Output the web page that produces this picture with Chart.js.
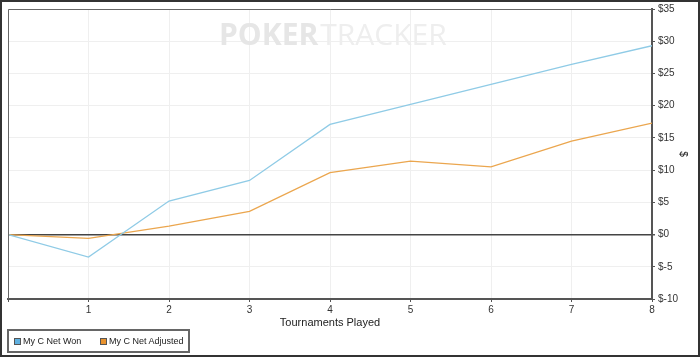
<!DOCTYPE html>
<html><head><meta charset="utf-8">
<script src="https://cdn.jsdelivr.net/npm/chart.js@4"></script>
<style>
html,body{margin:0;padding:0;background:#fff;}
#wrap{position:relative;width:700px;height:357px;}
#legend{position:absolute;left:7px;top:329px;width:183px;height:24px;border:2px solid #666;box-sizing:border-box;font:9px "Liberation Sans",Arial,sans-serif;color:#222;}
.item{position:absolute;top:0;height:20px;display:flex;align-items:center;white-space:nowrap;}
.sw{width:5px;height:5px;border:1px solid #555;margin-right:2px;}
</style></head>
<body><div id="wrap"><canvas id="c" width="700" height="357"></canvas>
<div id="legend"></div></div>
<script>
const tournaments = [0,1,2,3,4,5,6,7,8];
const netWon = [0,-3.5,5.2,8.4,17.1,20.2,23.3,26.4,29.3];
const netAdjusted = [0,-0.6,1.3,3.6,9.6,11.4,10.5,14.5,17.3];
const seriesNames = ['My C Net Won','My C Net Adjusted'];
const seriesColors = ['#8fcbe6','#eba64e'];
const swatchColors = ['#5fb0e0','#e8922e'];

const frame = {
  id:'frame',
  beforeDatasetsDraw(chart){
    const ctx=chart.ctx;
    ctx.save();
    ctx.font='bold 30px "Open Sans", "DejaVu Sans", sans-serif';
    ctx.textBaseline='middle';
    ctx.fillStyle='#e6e6e6';
    ctx.fillText('POKER',219,36);
    const w=ctx.measureText('POKER').width;
    ctx.font='30px "Open Sans", "DejaVu Sans", sans-serif';
    ctx.fillStyle='#eeeeee';
    ctx.fillText('TRACKER',219+w+2,36);
    ctx.restore();
  },
  afterDraw(chart){
    const ctx=chart.ctx, a=chart.chartArea;
    ctx.save();
    ctx.strokeStyle='#666';ctx.lineWidth=1;
    ctx.beginPath();
    ctx.moveTo(a.left+0.5,a.bottom);ctx.lineTo(a.left+0.5,a.top+0.5);ctx.lineTo(a.right,a.top+0.5);
    ctx.stroke();
    ctx.strokeStyle='#333';ctx.lineWidth=2;
    ctx.strokeRect(1,1,698,355);
    ctx.restore();
  }
};

new Chart(document.getElementById('c'),{
  type:'line',
  data:{datasets:[
    {label:seriesNames[0],data:tournaments.map((x,i)=>({x,y:netWon[i]})),borderColor:seriesColors[0],backgroundColor:seriesColors[0],borderWidth:1.3,pointRadius:0,tension:0},
    {label:seriesNames[1],data:tournaments.map((x,i)=>({x,y:netAdjusted[i]})),borderColor:seriesColors[1],backgroundColor:seriesColors[1],borderWidth:1.3,pointRadius:0,tension:0}
  ]},
  options:{
    responsive:false,animation:false,
    layout:{padding:{left:8,top:9,right:0,bottom:27}},
    plugins:{legend:{display:false},tooltip:{enabled:false}},
    scales:{
      x:{type:'linear',min:0,max:8,
        afterFit(s){s.height=31;},
        ticks:{stepSize:1,color:'#333',font:{family:'"Liberation Sans", Arial',size:10},padding:2,
          callback:v=>v===0?'':String(v),maxRotation:0},
        grid:{color:'#efefef',tickColor:'#555',tickLength:3},
        border:{color:'#555',width:2},
        title:{display:true,text:'Tournaments Played',color:'#222',font:{family:'"Liberation Sans", Arial',size:11},padding:{top:2,bottom:0}}
      },
      y:{position:'right',min:-10,max:35,
        afterFit(s){s.width=48;},
        ticks:{stepSize:5,color:'#333',font:{family:'"Liberation Sans", Arial',size:10},padding:3,callback:v=>'$'+v},
        grid:{color:c=>c.tick&&c.tick.value===0?'#444':'#efefef',lineWidth:c=>c.tick&&c.tick.value===0?1.5:1,tickColor:'#555',tickLength:3},
        border:{color:'#555',width:2},
        title:{display:true,text:'$',color:'#222',font:{family:'"Liberation Sans", Arial',size:10},padding:{top:11,bottom:0}}
      }
    }
  },
  plugins:[frame]
});

const lg=document.getElementById('legend');
const itemLeft=[5,91];
seriesNames.forEach((n,i)=>{
  const d=document.createElement('div');d.className='item';
  d.style.left=itemLeft[i]+'px';
  d.innerHTML='<span class="sw" style="background:'+swatchColors[i]+'"></span>'+n;
  lg.appendChild(d);
});
</script></body></html>
